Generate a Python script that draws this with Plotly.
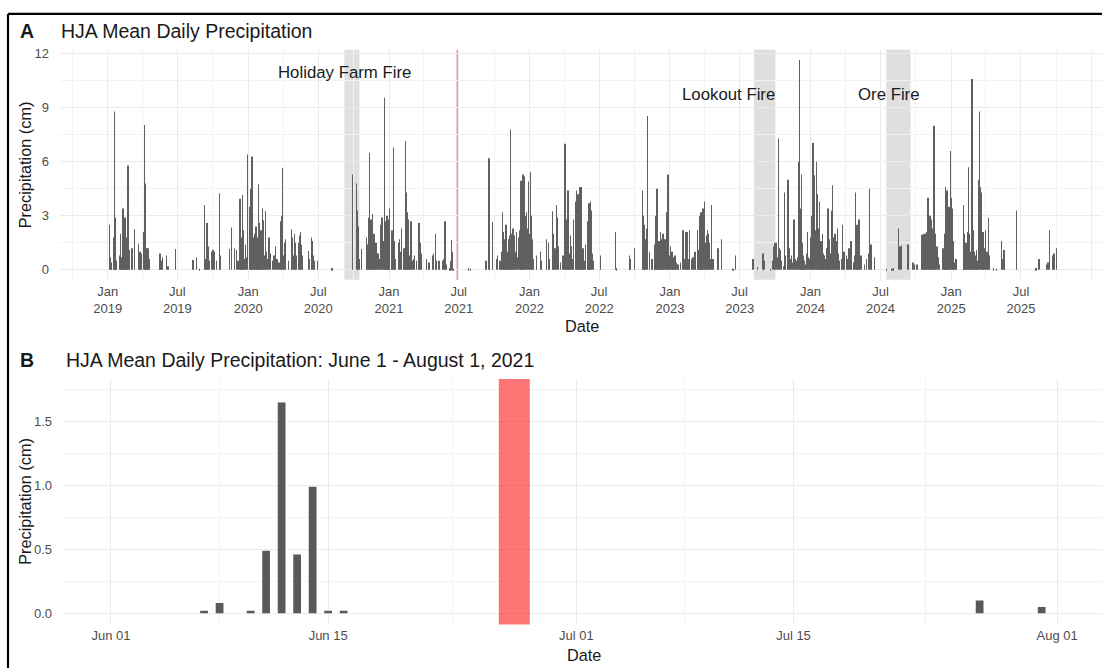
import plotly.graph_objects as go
import pandas as pd

# ---------------- data ----------------
days_2019 = ["01-05","01-08","01-10","01-16","01-18","01-19","01-20","01-22","01-23",
             "02-02","02-03","02-05","02-06","02-08","02-09","02-10","02-11","02-12","02-13","02-15","02-16","02-17","02-20","02-21","02-23","02-24","02-26",
             "03-05","03-12","03-22","03-24","03-26","03-28","03-30",
             "04-04","04-06","04-07","04-09","04-10","04-13","04-15","04-16","04-18",
             "05-15","05-17","05-19","05-22","05-24","06-03","06-07","06-26",
             "08-11","08-20","08-28",
             "09-09","09-12","09-15","09-16","09-19","09-22","09-28",
             "10-02","10-06","10-11","10-18","10-19","10-21",
             "11-13","11-19","11-27",
             "12-02","12-06","12-11","12-14","12-16","12-17","12-19","12-21","12-25","12-28","12-31"]
precip_2019 = [2.5,0.7,0.4,1.8,8.8,1.2,2.0,2.9,0.5,
               0.8,2.0,0.5,0.7,2.1,1.2,3.4,1.0,2.0,1.8,2.9,0.9,1.7,1.8,0.5,5.8,1.1,1.1,
               1.2,2.25,1.45,0.8,1.0,0.7,0.9,
               2.1,8.05,6.0,4.8,1.0,1.2,0.7,1.2,0.6,
               0.5,0.9,0.6,0.5,0.7,0.8,0.2,1.15,
               0.55,0.7,0.05,
               3.6,0.6,2.3,2.6,1.3,0.5,1.0,
               1.1,1.0,0.5,1.7,4.25,0.8,
               1.15,2.35,1.2,
               1.1,0.5,3.95,1.8,0.9,4.15,2.2,0.6,1.4,0.7,6.4]

days_2020 = ["01-04","01-06","01-08","01-09","01-11","01-13","01-16","01-18","01-21","01-22","01-24","01-26","01-28","01-30",
             "02-01","02-03","02-05","02-08","02-10","02-12","02-15","02-17","02-20","02-24","02-28",
             "03-04","03-08","03-12","03-16","03-21","03-26","03-29","03-31",
             "04-02","04-04","04-07","04-14","04-22","04-23","04-25","04-28","04-30",
             "05-02","05-05","05-10","05-13","05-14","05-16","05-18","05-22",
             "06-05","06-09","06-13","06-15","06-18","06-20","06-29",
             "08-06","09-28",
             "10-09","10-11","10-12","10-16","10-22",
             "11-04","11-06","11-09","11-12","11-14","11-15","11-17","11-19","11-21","11-23","11-26","11-28",
             "12-03","12-07","12-10","12-12","12-14","12-16","12-20","12-22","12-24","12-27","12-28","12-30"]
precip_2020 = [2.3,3.5,4.5,1.8,6.3,2.2,1.8,2.0,2.4,1.4,1.8,1.0,4.75,2.6,
               1.2,2.2,1.0,3.4,2.75,0.8,3.25,1.0,0.6,1.8,0.9,
               0.5,0.8,1.3,0.6,0.4,2.7,3.0,5.65,
               0.8,1.5,1.7,0.5,2.25,1.0,1.8,0.8,2.0,
               1.5,0.8,1.5,1.9,0.7,2.1,1.4,0.8,
               1.05,0.6,1.8,1.6,0.8,0.5,0.5,
               0.1,5.3,
               4.8,3.3,2.4,0.6,1.15,
               1.8,1.4,2.9,6.5,1.2,2.8,1.0,3.1,0.9,2.0,0.7,1.5,
               0.9,0.6,2.5,1.2,2.9,1.6,9.55,2.7,1.7,3.0,1.3,1.0]

days_2021 = ["01-01","01-03","01-07","01-09","01-12","01-14","01-18","01-25","01-29","01-31",
             "02-02","02-07","02-09","02-12","02-14","02-15","02-17","02-19","02-21","02-24","02-27","02-28",
             "03-03","03-06","03-09","03-13","03-20","03-22","03-23","03-27",
             "04-08","04-15","04-24","04-27",
             "05-02","05-04","05-11","05-20","05-24","05-26","05-30",
             "06-07","06-08","06-10","06-11","06-12","06-13","06-14","06-15","06-16",
             "07-27","07-31",
             "09-10","09-18","09-27",
             "10-07","10-09","10-16","10-20","10-22","10-25","10-27","10-29",
             "11-01","11-03","11-06","11-08","11-10","11-12","11-15","11-16","11-17","11-19","11-22","11-25","11-28",
             "12-01","12-04","12-07","12-10","12-13","12-15","12-17","12-19","12-21","12-24","12-26","12-29"]
precip_2021 = [2.8,3.4,1.4,2.2,6.8,1.6,0.6,1.5,1.7,1.0,
               2.3,1.0,1.2,7.15,4.3,1.5,3.2,1.2,2.8,0.8,2.7,1.2,
               0.5,0.6,0.8,0.5,2.6,0.8,1.5,0.9,
               0.6,0.4,0.8,0.9,
               2.0,0.5,0.5,0.5,0.6,2.7,0.3,
               0.02,0.08,0.02,0.49,1.65,0.46,0.99,0.02,0.02,
               0.1,0.05,
               0.5,6.2,2.65,
               0.6,0.8,0.5,1.0,3.2,2.1,1.7,1.5,
               2.5,2.0,1.0,1.7,1.9,7.8,2.0,0.8,1.2,2.3,1.9,1.0,2.1,
               0.7,1.8,2.2,4.95,3.6,5.3,1.8,5.2,3.0,3.2,2.3,4.9]

days_2022 = ["01-01","01-03","01-05","01-06","01-09","01-12","01-19","01-30",
             "02-01","02-14","02-19","02-22",
             "03-01","03-03","03-08","03-12","03-14","03-17","03-23","03-29",
             "04-03","04-06","04-07","04-09","04-11","04-13","04-16","04-18","04-20","04-24","04-26","04-30",
             "05-03","05-05","05-07","05-09","05-12","05-13","05-15","05-18","05-20","05-23","05-27","05-31",
             "06-03","06-05","06-07","06-09","06-11","06-14","06-17",
             "07-05","08-12","08-15",
             "09-17","09-19","09-30",
             "10-21","10-22","10-24","10-26","10-28","10-30",
             "11-01","11-04","11-08","11-15","11-21","11-23","11-25","11-27","11-28",
             "12-01","12-02","12-04","12-06","12-07","12-11","12-12","12-14","12-16","12-19","12-21","12-23","12-25","12-27","12-29"]
precip_2022 = [2.0,5.45,1.5,3.0,1.7,0.6,0.8,1.0,
               0.5,1.7,1.5,0.6,
               3.25,2.0,1.2,3.6,2.9,1.3,0.4,0.8,
               7.0,1.5,2.8,1.2,4.4,2.5,0.9,1.9,1.3,0.6,2.8,3.8,
               4.4,4.1,4.2,3.0,4.6,1.5,4.6,0.8,1.2,0.5,1.4,2.7,
               1.0,3.7,1.2,3.8,3.3,0.9,0.5,
               0.8,2.1,0.1,
               0.8,0.6,1.2,
               4.4,1.2,3.0,2.5,1.7,0.8,
               2.3,8.55,1.0,0.6,1.4,0.6,3.0,1.2,4.5,
               1.6,0.9,1.6,0.8,2.1,1.7,0.9,2.0,0.7,1.7,0.9,3.2,1.4,5.3,3.8]

days_2023 = ["01-01","01-03","01-06","01-07","01-09","01-11","01-14","01-16","01-18","01-22","01-28",
             "02-04","02-07","02-10","02-12","02-15","02-17","02-20","02-21","02-26",
             "03-02","03-07","03-09","03-13","03-14","03-16","03-18","03-20","03-21","03-23","03-25","03-27","03-28","03-31",
             "04-03","04-04","04-06","04-08","04-10","04-13","04-15","04-19","04-23",
             "05-05","05-07","05-15","06-14","06-21",
             "08-05","08-16","08-31","09-02","09-19","09-24","09-28",
             "10-01","10-05","10-07","10-10","10-13","10-16","10-18","10-24","10-26","10-29",
             "11-02","11-04","11-07","11-10","11-13","11-15","11-19","11-22","11-26","11-29",
             "12-01","12-03","12-05","12-07","12-09","12-11","12-13","12-15","12-18","12-22","12-24","12-27","12-29"]
precip_2023 = [0.8,1.3,1.0,0.8,0.6,0.7,0.8,0.5,0.4,0.3,0.4,
               2.2,0.6,0.5,2.1,2.1,0.6,2.2,1.5,0.6,
               0.7,1.0,0.5,2.2,0.8,1.1,0.7,3.0,1.2,3.2,1.0,2.1,3.4,3.8,
               1.5,0.8,1.9,2.2,2.0,1.5,0.6,3.6,0.6,
               1.2,1.2,1.7,0.05,0.8,
               0.6,0.15,0.9,0.5,0.05,0.5,1.3,
               1.5,1.5,0.7,7.3,1.2,1.1,0.5,0.2,4.3,0.8,
               2.7,5.0,1.2,0.6,0.8,0.4,2.8,0.6,0.5,0.7,
               6.0,11.65,3.2,3.4,5.3,1.5,0.8,0.5,0.3,0.9,2.1,0.7,0.6]

days_2024 = ["01-01","01-04","01-06","01-08","01-09","01-11","01-14","01-17","01-19","01-22","01-23","01-25","01-28","01-30",
             "02-01","02-03","02-05","02-07","02-10","02-13","02-16","02-18","02-20","02-22","02-25","02-27","02-29",
             "03-01","03-03","03-05","03-08","03-10","03-11","03-14","03-16","03-21","03-25","03-28","03-30",
             "04-03","04-06","04-10","04-12","04-15","04-21","04-24","04-27","04-30",
             "05-01","05-03","05-06","05-08","05-11","05-21","05-25","05-30",
             "06-03","06-06","06-16",
             "07-16","07-31","08-04","08-16","08-21","08-24",
             "09-10","09-23","09-28",
             "10-04","10-17","10-19","10-21","10-23","10-25","10-28","10-29",
             "11-01","11-04","11-05","11-07","11-10","11-12","11-17","11-19","11-21","11-25","11-28",
             "12-02","12-10","12-14","12-16","12-17","12-19","12-21","12-23","12-26","12-27","12-29"]
precip_2024 = [1.8,3.0,2.9,7.05,1.6,5.25,2.2,6.0,4.2,2.3,1.1,3.8,1.6,0.8,
               2.0,0.9,0.5,0.8,0.6,1.2,3.4,1.7,0.8,0.9,3.3,4.7,1.8,
               0.9,1.7,2.0,1.6,0.7,2.3,0.9,0.5,0.6,2.5,1.0,0.5,
               0.8,0.6,1.2,0.7,1.6,0.4,0.8,4.3,2.3,
               2.5,1.2,2.8,1.6,0.8,0.3,0.6,0.9,
               4.5,1.4,0.7,
               0.05,0.05,0.1,2.3,1.3,1.35,
               1.4,0.4,0.3,
               0.3,1.95,0.9,2.0,1.0,2.0,2.1,1.5,
               4.0,2.5,1.2,3.0,2.8,2.3,8.0,3.5,2.0,1.3,0.7,
               0.3,1.2,2.0,1.0,4.6,3.0,4.4,1.8,3.5,1.3,6.6]

days_2025 = ["01-01","01-04","01-05","01-07","01-10","01-13",
             "02-01","02-02","02-04","02-06","02-08","02-10","02-12","02-14","02-15","02-18","02-21","02-22","02-24","02-27",
             "03-01","03-03","03-06","03-08","03-10","03-13","03-15","03-17","03-20","03-23","03-24","03-26","03-29","03-31",
             "04-02","04-04","04-08","04-11","04-20","04-29",
             "05-12","05-14","05-18","05-20","06-20",
             "08-07","08-11","08-17",
             "09-06","09-09","09-13","09-22","09-25","10-02"]
precip_2025 = [4.0,3.4,1.6,1.3,0.4,0.6,
               3.6,1.2,2.0,0.9,1.5,0.7,2.1,1.3,5.7,2.0,1.0,1.8,10.6,2.2,
               1.0,0.6,0.8,1.1,0.5,5.0,8.8,4.6,4.3,2.1,1.0,2.1,1.2,2.2,
               0.8,1.0,2.9,0.8,0.1,0.05,
               1.6,0.6,1.1,0.4,3.3,
               0.1,0.1,0.6,
               0.3,0.4,2.2,0.8,0.9,1.2]

fire_names = ["Holiday Farm Fire", "Lookout Fire", "Ore Fire"]
fire_start = ["2020-09-07", "2023-08-07", "2024-07-16"]
fire_end = ["2020-10-16", "2023-10-01", "2024-09-17"]
heat_dome_date = "2021-06-27"
heat_dome_start = "2021-06-26"
heat_dome_end = "2021-06-28"

a_tick_dates = ["2019-01-01","2019-07-01","2020-01-01","2020-07-01","2021-01-01","2021-07-01",
                "2022-01-01","2022-07-01","2023-01-01","2023-07-01","2024-01-01","2024-07-01",
                "2025-01-01","2025-07-01","2026-01-01"]
a_tick_text = ["Jan<br>2019","Jul<br>2019","Jan<br>2020","Jul<br>2020","Jan<br>2021","Jul<br>2021",
               "Jan<br>2022","Jul<br>2022","Jan<br>2023","Jul<br>2023","Jan<br>2024","Jul<br>2024",
               "Jan<br>2025","Jul<br>2025",""]
b_tick_dates = ["2021-06-01","2021-06-15","2021-07-01","2021-07-15","2021-08-01"]
b_tick_text = ["Jun 01","Jun 15","Jul 01","Jul 15","Aug 01"]
b_minor_dates = ["2021-06-08","2021-06-23","2021-07-08","2021-07-23 12:00"]

# ---------------- assemble ----------------
years = {2019: (days_2019, precip_2019), 2020: (days_2020, precip_2020),
         2021: (days_2021, precip_2021), 2022: (days_2022, precip_2022),
         2023: (days_2023, precip_2023), 2024: (days_2024, precip_2024),
         2025: (days_2025, precip_2025)}
rows = []
for yr, (dd, vv) in years.items():
    assert len(dd) == len(vv), yr
    for d, v in zip(dd, vv):
        rows.append((pd.Timestamp(f"{yr}-{d}"), v))
df = pd.DataFrame(rows, columns=["date", "precip"]).sort_values("date")
dfb = df[(df.date >= "2021-06-01") & (df.date <= "2021-08-01")]

W, H = 1102, 668
def px(x): return x / W
def py(y): return 1 - y / H

FONT = "Liberation Sans, Arial, sans-serif"
GRID = "#EBEBEB"
MINOR = "#F2F2F2"
BAR = "#595959"
TICK = "#4D4D4D"
DAY = 86400000

fig = go.Figure()
fig.add_trace(go.Bar(x=df.date, y=df.precip, width=0.9 * DAY, marker=dict(color="#606060", line=dict(width=0)),
                     xaxis="x", yaxis="y", showlegend=False))
fig.add_trace(go.Bar(x=dfb.date, y=dfb.precip, width=0.5 * DAY, marker=dict(color=BAR, line=dict(width=0)),
                     xaxis="x2", yaxis="y2", showlegend=False))

common_axis = dict(showline=False, zeroline=False, ticks="", gridcolor=GRID, gridwidth=1.4,
                   tickfont=dict(family=FONT, size=13, color=TICK))

fig.update_layout(
    width=W, height=H, margin=dict(l=0, r=0, t=0, b=0, pad=0),
    paper_bgcolor="white", plot_bgcolor="white", bargap=0.2,
    font=dict(family=FONT, color="#1A1A1A"),
    xaxis=dict(domain=[px(60), 1], anchor="y", type="date",
               range=["2018-08-30 02:00", "2026-01-27 12:00"],
               tickmode="array", tickvals=a_tick_dates, ticktext=a_tick_text,
               minor=dict(dtick="M3", tick0="2018-10-01", showgrid=True, gridcolor=MINOR, gridwidth=0.8),
               ticklabelstandoff=2, **common_axis),
    yaxis=dict(domain=[py(278), py(47)], anchor="x", range=[-0.553, 12.221],
               tickmode="array", tickvals=[0, 3, 6, 9, 12], ticktext=["0", "3", "6", "9", "12"],
               minor=dict(tickmode="linear", tick0=0, dtick=1.5, showgrid=True, gridcolor=MINOR, gridwidth=0.8),
               ticklabelstandoff=10, **common_axis),
    xaxis2=dict(domain=[px(63), 1], anchor="y2", type="date",
                range=["2021-05-28 21:45", "2021-08-03 21:20"],
                tickmode="array", tickvals=b_tick_dates, ticktext=b_tick_text,
                minor=dict(tickmode="array", tickvals=b_minor_dates, showgrid=True, gridcolor=MINOR, gridwidth=0.8),
                ticklabelstandoff=2, **common_axis),
    yaxis2=dict(domain=[py(624.3), py(377.7)], anchor="x2", range=[-0.088, 1.835],
                tickmode="array", tickvals=[0, 0.5, 1.0, 1.5], ticktext=["0.0", "0.5", "1.0", "1.5"],
                minor=dict(tickmode="linear", tick0=0, dtick=0.25, showgrid=True, gridcolor=MINOR, gridwidth=0.8),
                ticklabelstandoff=10, **common_axis),
)

shapes = []
for s, e in zip(fire_start, fire_end):
    shapes.append(dict(type="rect", xref="x", yref="y domain", x0=s, x1=e, y0=0, y1=1,
                       fillcolor="#DFDFDF", line=dict(width=0), layer="below"))
shapes.append(dict(type="line", xref="x", yref="y domain", x0=heat_dome_date, x1=heat_dome_date, y0=0, y1=1,
                   line=dict(color="rgba(235,60,60,0.8)", width=1), layer="below"))
shapes.append(dict(type="rect", xref="x2", yref="y2 domain", x0=heat_dome_start, x1=heat_dome_end, y0=0, y1=1,
                   fillcolor="rgba(255,0,0,0.54)", line=dict(width=0), layer="above"))
# outer frame (top and left edges of the original figure border)
shapes.append(dict(type="line", xref="paper", yref="paper", x0=px(8), x1=1.01, y0=py(11), y1=py(11),
                   line=dict(color="black", width=2.2), layer="above"))
shapes.append(dict(type="line", xref="paper", yref="paper", x0=px(8), x1=px(8), y0=py(11), y1=-0.01,
                   line=dict(color="black", width=2.2), layer="above"))
fig.update_layout(shapes=shapes)

ann = []
def text(x, y, s, size, **kw):
    d = dict(x=x, y=y, text=s, showarrow=False, font=dict(family=FONT, size=size, color=kw.pop("color", "#1A1A1A")),
             xref=kw.pop("xref", "paper"), yref=kw.pop("yref", "paper"))
    d.update(kw)
    ann.append(d)

text(px(18), py(28), "<b>A</b>", 19.5, xanchor="left", yanchor="middle")
text(px(59), py(28), "HJA Mean Daily Precipitation", 19.5, xanchor="left", yanchor="middle")
text(px(18), py(359), "<b>B</b>", 19.5, xanchor="left", yanchor="middle")
text(px(63.5), py(359), "HJA Mean Daily Precipitation: June 1 - August 1, 2021", 19.5, xanchor="left", yanchor="middle")
text(px(25), py(163), "Precipitation (cm)", 16.3, textangle=-90, xanchor="center", yanchor="middle")
text(px(25), py(501), "Precipitation (cm)", 16.3, textangle=-90, xanchor="center", yanchor="middle")
text(px(581.5), py(324), "Date", 16.3, xanchor="center", yanchor="middle")
text(px(584), py(655), "Date", 16.3, xanchor="center", yanchor="middle")

label_x = ["2020-09-07", "2023-06-02", "2024-07-24"]
label_y = [10.95, 9.73, 9.73]
for name, lx, ly in zip(fire_names, label_x, label_y):
    text(lx, ly, name, 16.8, xref="x", yref="y", xanchor="center", yanchor="middle")
fig.update_layout(annotations=ann)

fig.write_html("out.html", config={"displayModeBar": False},
               post_script="document.body.style.margin='0';")
